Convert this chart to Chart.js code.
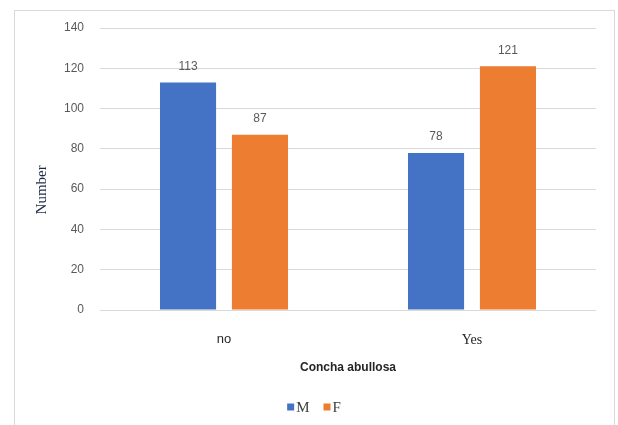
<!DOCTYPE html>
<html>
<head>
<meta charset="utf-8">
<script src="https://cdn.jsdelivr.net/npm/chart.js@4"></script>
<style>
  html, body { margin: 0; padding: 0; background: #fff; }
  #frame {
    position: absolute; left: 14px; top: 10px;
    width: 599px; height: 430px;
    border: 1px solid #d9d9d9; background: #fff;
  }
  #c { position: absolute; left: 0; top: 0; }
</style>
</head>
<body>
<div id="frame"><canvas id="c" width="598" height="414"></canvas></div>
<script>
// Counts by presence of concha bullosa, split by sex
const categories = ['no', 'Yes'];
const maleCounts = [113, 78];
const femaleCounts = [87, 121];
const seriesNames = ['M', 'F'];
const yTicks = [0, 20, 40, 60, 80, 100, 120, 140];
const xAxisTitle = 'Concha abullosa';
const yAxisTitle = 'Number';

const BLUE = '#4472C4';
const ORANGE = '#ED7D31';
const TICK_GREY = '#595959';
const SANS = '"Liberation Sans", Arial, sans-serif';
const SERIF = '"Liberation Serif", "Times New Roman", serif';

// Value labels above every bar
const valueLabels = {
  id: 'valueLabels',
  afterDatasetsDraw(chart) {
    const ctx = chart.ctx;
    ctx.save();
    ctx.font = '12px ' + SANS;
    ctx.fillStyle = TICK_GREY;
    ctx.textAlign = 'center';
    ctx.textBaseline = 'middle';
    chart.data.datasets.forEach((ds, di) => {
      chart.getDatasetMeta(di).data.forEach((bar, i) => {
        ctx.fillText(String(ds.data[i]), bar.x, bar.y - 16);
      });
    });
    ctx.restore();
  }
};

// Rotated y-axis title
const yTitle = {
  id: 'yTitle',
  afterDraw(chart) {
    const ctx = chart.ctx;
    const area = chart.chartArea;
    ctx.save();
    ctx.translate(27, area.top + (area.bottom - area.top) * 0.574);
    ctx.rotate(-Math.PI / 2);
    ctx.font = '15px ' + SERIF;
    ctx.fillStyle = '#1f2a44';
    ctx.textAlign = 'center';
    ctx.textBaseline = 'middle';
    ctx.fillText(yAxisTitle, 0, 0);
    ctx.restore();
  }
};

// Compact legend: small square followed closely by the series name
const compactLegend = {
  id: 'compactLegend',
  afterDraw(chart) {
    const ctx = chart.ctx;
    const y = chart.height - 18;
    const box = 7, gapText = 2, gapItem = 14;
    ctx.save();
    ctx.font = '15px ' + SERIF;
    ctx.textBaseline = 'middle';
    const items = chart.data.datasets.map(ds => ({
      text: ds.label, color: ds.backgroundColor,
      w: box + gapText + ctx.measureText(ds.label).width
    }));
    const total = items.reduce((s, it) => s + it.w, 0) + gapItem * (items.length - 1);
    let x = chart.width / 2 - total / 2;
    items.forEach(it => {
      ctx.fillStyle = it.color;
      ctx.fillRect(x, y - box / 2, box, box);
      ctx.fillStyle = '#404040';
      ctx.textAlign = 'left';
      ctx.fillText(it.text, x + box + gapText, y + 1);
      x += it.w + gapItem;
    });
    ctx.restore();
  }
};

new Chart(document.getElementById('c'), {
  type: 'bar',
  data: {
    labels: categories,
    datasets: [
      { label: seriesNames[0], data: maleCounts, backgroundColor: BLUE, borderWidth: 0 },
      { label: seriesNames[1], data: femaleCounts, backgroundColor: ORANGE, borderWidth: 0 }
    ]
  },
  options: {
    responsive: false,
    animation: false,
    events: [],
    layout: { padding: { left: 10, right: 17, top: 17, bottom: 35 } },
    datasets: { bar: { categoryPercentage: 0.58, barPercentage: 0.78 } },
    plugins: {
      tooltip: { enabled: false },
      legend: { display: false }
    },
    scales: {
      x: {
        grid: { display: false, drawTicks: false },
        border: { display: false },
        ticks: {
          padding: 22,
          color: '#262626',
          font: (ctx) => ctx.index === 1
            ? { family: SERIF, size: 14 }
            : { family: SANS, size: 13 }
        },
        title: {
          display: true,
          text: xAxisTitle,
          color: '#262626',
          font: { family: SANS, size: 12, weight: 'bold' },
          padding: { top: 0, bottom: 15 }
        },
        afterFit(scale) { scale.height = 80; }
      },
      y: {
        min: 0,
        max: 140,
        afterBuildTicks(scale) { scale.ticks = yTicks.map(v => ({ value: v })); },
        grid: { color: '#d9d9d9', lineWidth: 1, drawTicks: false },
        border: { display: false },
        ticks: {
          padding: 16,
          color: TICK_GREY,
          font: { family: SANS, size: 12 }
        },
        afterFit(scale) {
          scale.width = 75;
          scale.paddingTop = 0;
          scale.paddingBottom = 0;
        }
      }
    }
  },
  plugins: [valueLabels, yTitle, compactLegend]
});
</script>
</body>
</html>
